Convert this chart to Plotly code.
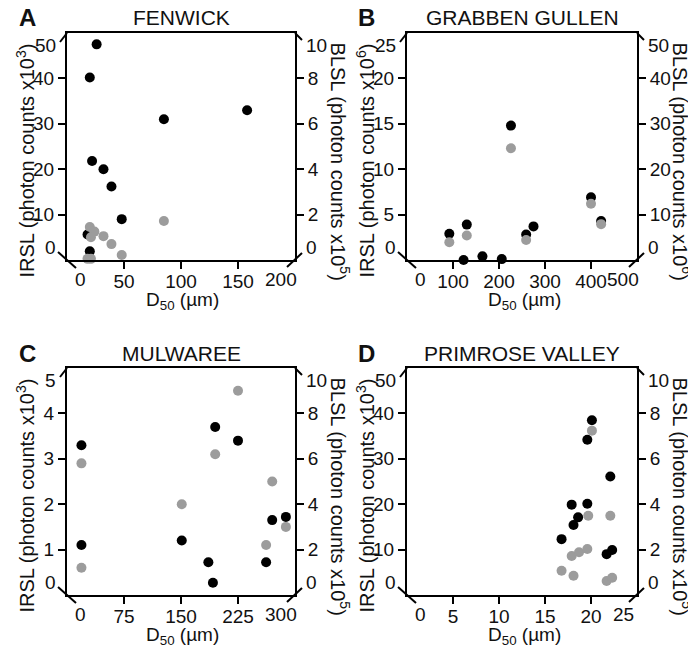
import plotly.graph_objects as go

# ---------------- data ----------------
# Panel A - Fenwick
a_d50_irsl = [26, 20, 85, 158, 22, 32, 39, 48, 18, 20]
a_irsl = [47.5, 40.2, 31.0, 33.0, 21.8, 20.0, 16.2, 9.0, 5.6, 1.9]
a_d50_blsl = [20, 24, 21, 32, 39, 48, 85, 18, 21]
a_blsl = [1.45, 1.25, 1.0, 1.05, 0.7, 0.22, 1.72, 0.05, 0.05]

# Panel B - Grabben Gullen
b_d50_irsl = [92, 123, 130, 164, 206, 226, 259, 275, 400, 422]
b_irsl = [2.9, 0.0, 3.9, 0.4, 0.1, 14.8, 2.8, 3.7, 6.9, 4.3]
b_d50_blsl = [92, 130, 226, 259, 400, 422]
b_blsl = [3.9, 5.4, 24.6, 4.4, 12.4, 7.9]

# Panel C - Mulwaree
c_d50_irsl = [19, 19, 151, 186, 192, 195, 225, 262, 270, 288]
c_irsl = [3.3, 1.1, 1.2, 0.72, 0.27, 3.7, 3.4, 0.72, 1.65, 1.72]
c_d50_blsl = [19, 19, 151, 195, 225, 262, 270, 288]
c_blsl = [5.8, 1.2, 4.0, 6.2, 9.0, 2.2, 5.0, 3.0]

# Panel D - Primrose Valley
d_d50_irsl = [16.8, 17.9, 18.1, 18.6, 19.6, 20.1, 19.6, 22.1, 21.7, 22.3]
d_irsl = [12.3, 19.9, 15.4, 17.1, 34.2, 38.5, 20.1, 26.1, 9.0, 9.9]
d_d50_blsl = [16.8, 17.9, 18.1, 18.7, 19.6, 19.7, 20.1, 22.1, 21.7, 22.3]
d_blsl = [1.07, 1.72, 0.85, 1.88, 2.03, 3.49, 7.24, 3.49, 0.62, 0.76]

panel_letters = ["A", "B", "C", "D"]
panel_titles = ["FENWICK", "GRABBEN GULLEN", "MULWAREE", "PRIMROSE VALLEY"]
x_ticks = [[0, 50, 100, 150, 200], [0, 100, 200, 300, 400, 500],
           [0, 75, 150, 225, 300], [0, 5, 10, 15, 20, 25]]
irsl_ticks = [[0, 10, 20, 30, 40, 50], [0, 5, 10, 15, 20, 25],
              [0, 1, 2, 3, 4, 5], [0, 10, 20, 30, 40, 50]]
blsl_ticks = [[0, 2, 4, 6, 8, 10], [0, 10, 20, 30, 40, 50],
              [0, 2, 4, 6, 8, 10], [0, 2, 4, 6, 8, 10]]
irsl_exp = ["3", "6", "3", "3"]
blsl_exp = ["5", "6", "5", "5"]

series = [
    (a_d50_irsl, a_irsl, a_d50_blsl, a_blsl),
    (b_d50_irsl, b_irsl, b_d50_blsl, b_blsl),
    (c_d50_irsl, c_irsl, c_d50_blsl, c_blsl),
    (d_d50_irsl, d_irsl, d_d50_blsl, d_blsl),
]

# ---------------- layout geometry (pixels) ----------------
W, H = 688, 646
box_x = [(67, 295), (407, 637), (67, 295), (407, 637)]
box_y = [(33, 260), (33, 260), (368, 595), (368, 595)]


def px(x):
    return x / W


def py(y):
    return 1 - y / H


FONT = "Liberation Sans, Arial, sans-serif"
TXT = "#111111"
TICKFONT = dict(family=FONT, size=19, color=TXT)
BLACK = "#000000"
GRAY = "#9c9c9c"

fig = go.Figure()
layout = dict(
    width=W, height=H, margin=dict(l=0, r=0, t=0, b=0),
    paper_bgcolor="white", plot_bgcolor="white", showlegend=False,
    font=dict(family=FONT, color=TXT),
)
shapes = []
annotations = []

for i in range(4):
    xn = i + 1
    yl = 2 * i + 1
    yr = 2 * i + 2
    xd = [px(box_x[i][0]), px(box_x[i][1])]
    yd = [py(box_y[i][1]), py(box_y[i][0])]
    xt, it, bt = x_ticks[i], irsl_ticks[i], blsl_ticks[i]

    common = dict(showgrid=False, zeroline=False, showline=True, linecolor=BLACK,
                  linewidth=2, ticks="outside", ticklen=7, tickwidth=2,
                  tickcolor=BLACK, tickfont=TICKFONT, fixedrange=True)

    layout[f"xaxis{xn}"] = dict(domain=xd, anchor=f"y{yl}", range=[xt[0], xt[-1]],
                                tickvals=xt[1:-1], ticktext=[str(v) for v in xt[1:-1]],
                                mirror=True, ticklabelstandoff=-4, **common)
    layout[f"yaxis{yl}"] = dict(domain=yd, anchor=f"x{xn}", range=[it[0], it[-1]],
                                tickvals=it[1:-1], ticktext=[str(v) for v in it[1:-1]],
                                side="left", **common)
    layout[f"yaxis{yr}"] = dict(overlaying=f"y{yl}", anchor=f"x{xn}", range=[bt[0], bt[-1]],
                                tickvals=bt[1:-1], ticktext=[str(v) for v in bt[1:-1]],
                                side="right", **common)

    dx, di, dbx, db = series[i]
    fig.add_trace(go.Scatter(x=dbx, y=db, mode="markers", xaxis=f"x{xn}", yaxis=f"y{yr}",
                             marker=dict(color=GRAY, size=10, line=dict(width=0)),
                             cliponaxis=False))
    fig.add_trace(go.Scatter(x=dx, y=di, mode="markers", xaxis=f"x{xn}", yaxis=f"y{yl}",
                             marker=dict(color=BLACK, size=10, line=dict(width=0)),
                             cliponaxis=False))

    # diagonal corner ticks
    line = dict(color=BLACK, width=2)
    corner = [
        (xd[0], yd[1], 0, -7, 0, -9),
        (xd[0], yd[0], -9, 9, 8, -8),
        (xd[1], yd[1], 0, 7, 0, -7),
        (xd[1], yd[0], -8, 7, -7, 7),
    ]
    for (ax_, ay_, x0, x1, y0, y1) in corner:
        shapes.append(dict(type="line", xref="paper", yref="paper",
                           xsizemode="pixel", ysizemode="pixel",
                           xanchor=ax_, yanchor=ay_, x0=x0, x1=x1, y0=y0, y1=y1,
                           line=line, layer="above"))

    # end tick labels (shifted inward)
    tf = dict(family=FONT, size=19, color=TXT)
    annotations += [
        dict(xref="paper", yref="paper", x=xd[0], y=yd[1], xanchor="right", yanchor="middle",
             xshift=-9, yshift=-12, text=str(it[-1]), showarrow=False, font=tf),
        dict(xref="paper", yref="paper", x=xd[0], y=yd[0], xanchor="right", yanchor="middle",
             xshift=-9, yshift=13, text=str(it[0]), showarrow=False, font=tf),
        dict(xref="paper", yref="paper", x=xd[1], y=yd[1], xanchor="left", yanchor="middle",
             xshift=9, yshift=-12, text=str(bt[-1]), showarrow=False, font=tf),
        dict(xref="paper", yref="paper", x=xd[1], y=yd[0], xanchor="left", yanchor="middle",
             xshift=9, yshift=13, text=str(bt[0]), showarrow=False, font=tf),
        dict(xref="paper", yref="paper", x=xd[0], y=yd[0], xanchor="center", yanchor="top",
             xshift=13, yshift=-7, text=str(xt[0]), showarrow=False, font=tf),
        dict(xref="paper", yref="paper", x=xd[1], y=yd[0], xanchor="center", yanchor="top",
             xshift=-14, yshift=-7, text=str(xt[-1]), showarrow=False, font=tf),
    ]

    cx = (box_x[i][0] + box_x[i][1]) / 2
    top = box_y[i][0]
    bot = box_y[i][1]
    mid = (top + bot) / 2
    lx = box_x[i][0] - 42
    rx = box_x[i][1] + 45
    annotations += [
        dict(xref="paper", yref="paper", x=px(box_x[i][0] - 40), y=py(top - 15),
             text=f"<b>{panel_letters[i]}</b>", showarrow=False,
             font=dict(family=FONT, size=24, color=TXT), xanchor="center", yanchor="middle"),
        dict(xref="paper", yref="paper", x=px(cx), y=py(top - 15), text=panel_titles[i],
             showarrow=False, font=dict(family=FONT, size=21, color=TXT),
             xanchor="center", yanchor="middle"),
        dict(xref="paper", yref="paper", x=px(lx), y=py(mid + 14), textangle=-90,
             text=f"IRSL (photon counts x10<sup>{irsl_exp[i]}</sup>)", showarrow=False,
             font=dict(family=FONT, size=20, color=TXT), xanchor="center", yanchor="middle"),
        dict(xref="paper", yref="paper", x=px(rx), y=py(mid + 15), textangle=90,
             text=f"BLSL (photon counts x10<sup>{blsl_exp[i]}</sup>)", showarrow=False,
             font=dict(family=FONT, size=20, color=TXT), xanchor="center", yanchor="middle"),
        dict(xref="paper", yref="paper", x=px(cx + 2), y=py(bot + 41),
             text="D<sub>50</sub> (µm)", showarrow=False, borderpad=0,
             font=dict(family=FONT, size=19, color=TXT), xanchor="center", yanchor="middle"),
    ]

layout["shapes"] = shapes
layout["annotations"] = annotations
fig.update_layout(**layout)
fig.write_html("out.html")
